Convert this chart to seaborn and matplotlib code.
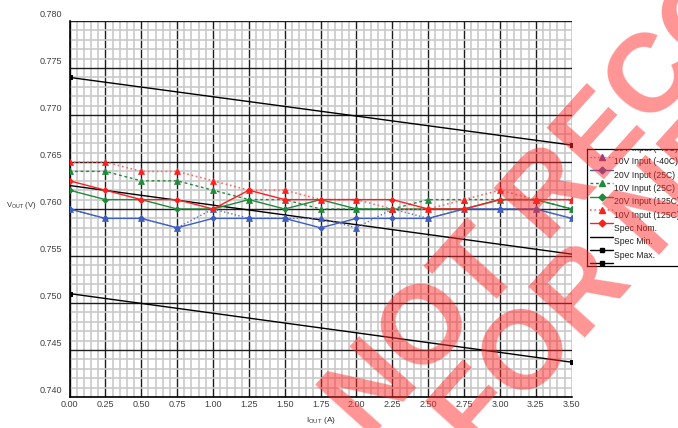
import matplotlib
matplotlib.use("Agg")
import matplotlib.pyplot as plt
import matplotlib.transforms as mtrans
from matplotlib.lines import Line2D
from matplotlib.ticker import MultipleLocator
import seaborn as sns

# ---------------- data ----------------
i_out = [0.0, 0.25, 0.5, 0.75, 1.0, 1.25, 1.5, 1.75, 2.0, 2.25, 2.5, 2.75, 3.0, 3.25, 3.5]

v_10v_m40 = [0.760, 0.759, 0.759, 0.758, 0.760, 0.759, 0.759, 0.759, 0.758, 0.760, 0.759, 0.760, 0.760, 0.760, 0.759]
v_20v_m40 = [0.760, 0.759, 0.759, 0.758, 0.759, 0.759, 0.759, 0.758, 0.759, 0.759, 0.759, 0.760, 0.760, 0.760, 0.759]
v_10v_25 = [0.764, 0.764, 0.763, 0.763, 0.762, 0.761, 0.761, 0.760, 0.760, 0.760, 0.761, 0.761, 0.761, 0.761, 0.760]
v_20v_25 = [0.762, 0.761, 0.761, 0.760, 0.760, 0.761, 0.760, 0.761, 0.760, 0.760, 0.760, 0.760, 0.761, 0.761, 0.760]
v_10v_125 = [0.765, 0.765, 0.764, 0.764, 0.763, 0.762, 0.762, 0.761, 0.761, 0.760, 0.760, 0.761, 0.762, 0.761, 0.761]
v_20v_125 = [0.763, 0.762, 0.761, 0.761, 0.760, 0.762, 0.761, 0.761, 0.761, 0.761, 0.760, 0.760, 0.761, 0.761, 0.761]

spec_x = [0.0, 3.5]
spec_nom = [0.7625, 0.7552]
spec_min = [0.7510, 0.7437]
spec_max = [0.7740, 0.7668]

x_ticks = [0.00, 0.25, 0.50, 0.75, 1.00, 1.25, 1.50, 1.75, 2.00, 2.25, 2.50, 2.75, 3.00, 3.25, 3.50]
y_ticks = [0.740, 0.745, 0.750, 0.755, 0.760, 0.765, 0.770, 0.775, 0.780]

legend_labels = ["20V Input (-40C)", "10V Input (-40C)", "20V Input (25C)", "10V Input (25C)",
                 "20V Input (125C)", "10V Input (125C)", "Spec Nom.", "Spec Min.", "Spec Max."]

# ---------------- styles ----------------
BLUE = "#3f5fbf"
GREEN = "#1f8a3c"
RED = "#ff1f1f"
PINK = "#ff6a6a"
BLACK = "#000000"

st = {
    "10m40": dict(color="#5a6fd0", ls=":", marker="^", ms=4.5, mfc=BLUE, lw=1.0),
    "10m40_leg": dict(color="#b070c0", ls=":", marker="^", ms=4.5, mfc="#7a3f9a", lw=1.0),
    "20m40": dict(color=BLUE, ls="-", marker="D", ms=3.0, mfc=BLUE, lw=1.0),
    "10_25": dict(color=GREEN, ls=(0, (2, 2)), marker="^", ms=4.5, mfc=GREEN, lw=1.0),
    "20_25": dict(color=GREEN, ls="-", marker="D", ms=3.0, mfc=GREEN, lw=1.0),
    "10_125": dict(color=PINK, ls=":", marker="^", ms=4.5, mfc=RED, lw=1.2),
    "20_125": dict(color=RED, ls="-", marker="D", ms=3.0, mfc=RED, lw=1.0),
    "nom": dict(color=BLACK, ls="-", marker=None, ms=0, mfc=BLACK, lw=1.0),
    "min": dict(color=BLACK, ls="-", marker="s", ms=2.5, mfc=BLACK, lw=1.0),
    "max": dict(color=BLACK, ls="-", marker="s", ms=2.5, mfc=BLACK, lw=1.0),
}

sns.set_style("white")
plt.rcParams["font.family"] = ["Liberation Sans", "DejaVu Sans"]

W, H = 678, 428
fig = plt.figure(figsize=(W / 100, H / 100), dpi=100)


def fx(px):
    return px / W


def fy(py):
    return 1 - py / H


ax = fig.add_axes([fx(69.5), fy(397), fx(571.7) - fx(69.5), fy(21) - fy(397)])

series = [
    (v_10v_m40, "10m40"), (v_20v_m40, "20m40"),
    (v_10v_25, "10_25"), (v_20v_25, "20_25"),
    (v_10v_125, "10_125"), (v_20v_125, "20_125"),
]

for ys, key in [(spec_max, "max"), (spec_nom, "nom"), (spec_min, "min")]:
    s = st[key]
    sns.lineplot(x=spec_x, y=ys, ax=ax, color=s["color"], linestyle=s["ls"], lw=s["lw"],
                 marker=s["marker"], markersize=s["ms"], markerfacecolor=s["mfc"],
                 markeredgecolor=s["mfc"], legend=False, zorder=3)

for z, (ys, key) in enumerate(series):
    s = st[key]
    sns.lineplot(x=i_out, y=ys, ax=ax, color=s["color"], linestyle=s["ls"], lw=s["lw"],
                 marker=s["marker"], markersize=s["ms"], markerfacecolor=s["mfc"],
                 markeredgecolor=s["mfc"], markeredgewidth=0.5, legend=False, zorder=4 + z)

ax.set_xlim(0, 3.5)
ax.set_ylim(0.740, 0.780)
ax.xaxis.set_major_locator(MultipleLocator(0.25))
ax.xaxis.set_minor_locator(MultipleLocator(0.05))
ax.yaxis.set_major_locator(MultipleLocator(0.005))
ax.yaxis.set_minor_locator(MultipleLocator(0.001))
ax.set_xticks(x_ticks)
ax.set_xticklabels([f"{v:.2f}" for v in x_ticks])
ax.set_yticks(y_ticks)
ax.set_yticklabels([f"{v:.3f}" for v in y_ticks])
ax.grid(which="minor", color="#c9c9c9", lw=1.2)
ax.grid(which="major", color="#1e1e1e", lw=1.0)
ax.set_axisbelow(True)
ax.tick_params(which="both", length=0)
ax.tick_params(axis="x", labelsize=6.5, pad=2, labelcolor="#404040")
ax.tick_params(axis="y", labelsize=6.5, pad=5.5, labelcolor="#404040")
for sp in ["top", "right"]:
    ax.spines[sp].set_visible(False)
for sp in ["left", "bottom"]:
    ax.spines[sp].set_color("black")
    ax.spines[sp].set_linewidth(1.2)
ax.set_xlabel("")
ax.set_ylabel("")

off = mtrans.ScaledTranslation(0, 7 / 100, fig.dpi_scale_trans)
for lab in ax.get_yticklabels():
    lab.set_transform(lab.get_transform() + off)

# axis titles
fig.text(fx(6), fy(205), r"V$_{\mathregular{OUT}}$ (V)", fontsize=5.5, color="#303030",
         ha="left", va="center")
fig.text(fx(306), fy(421), r"I$_{\mathregular{OUT}}$ (A)", fontsize=6.0, color="#303030",
         ha="left", va="center")

# ---------------- legend box ----------------
lx0, lx1, ly0, ly1 = 587, 720, 149, 266
lax = fig.add_axes([fx(lx0), fy(ly1), fx(lx1) - fx(lx0), fy(ly0) - fy(ly1)])
lax.set_xlim(lx0, lx1)
lax.set_ylim(ly1, ly0)
lax.set_xticks([])
lax.set_yticks([])
lax.set_facecolor("white")
for sp in lax.spines.values():
    sp.set_color("black")
    sp.set_linewidth(0.9)

handle_keys = ["20m40", "10m40_leg", "20m40", "10_25", "20_25", "10_125", "20_125", "nom", "min", "max"]
for i, key in enumerate(handle_keys):
    s = st[key]
    hy = 143.4 + 13.33 * i
    lax.add_line(Line2D([590, 613], [hy, hy], color=s["color"], ls=s["ls"], lw=s["lw"]))
    if s["marker"]:
        lax.add_line(Line2D([601.5], [hy], marker=s["marker"], ms=s["ms"] + 0.5, color=s["mfc"],
                            ls="none"))
for i, lab in enumerate(legend_labels):
    ty = 148.5 + 13.33 * i
    lax.text(613.5, ty, lab, fontsize=6.2, color="#202020", ha="left", va="center", clip_on=True)

# ---------------- watermark ----------------
wm = dict(rotation=48, rotation_mode="anchor", ha="left", va="baseline", fontsize=80,
          fontweight="bold", color="#ff2a2a", alpha=0.5, family="Liberation Sans", zorder=20)
fig.text(fx(368), fy(441), "NOT RECOMMENDED", **wm)
fig.text(fx(477), fy(457), "FOR NEW DESIGNS", **wm)

fig.savefig("out.png", dpi=100)
